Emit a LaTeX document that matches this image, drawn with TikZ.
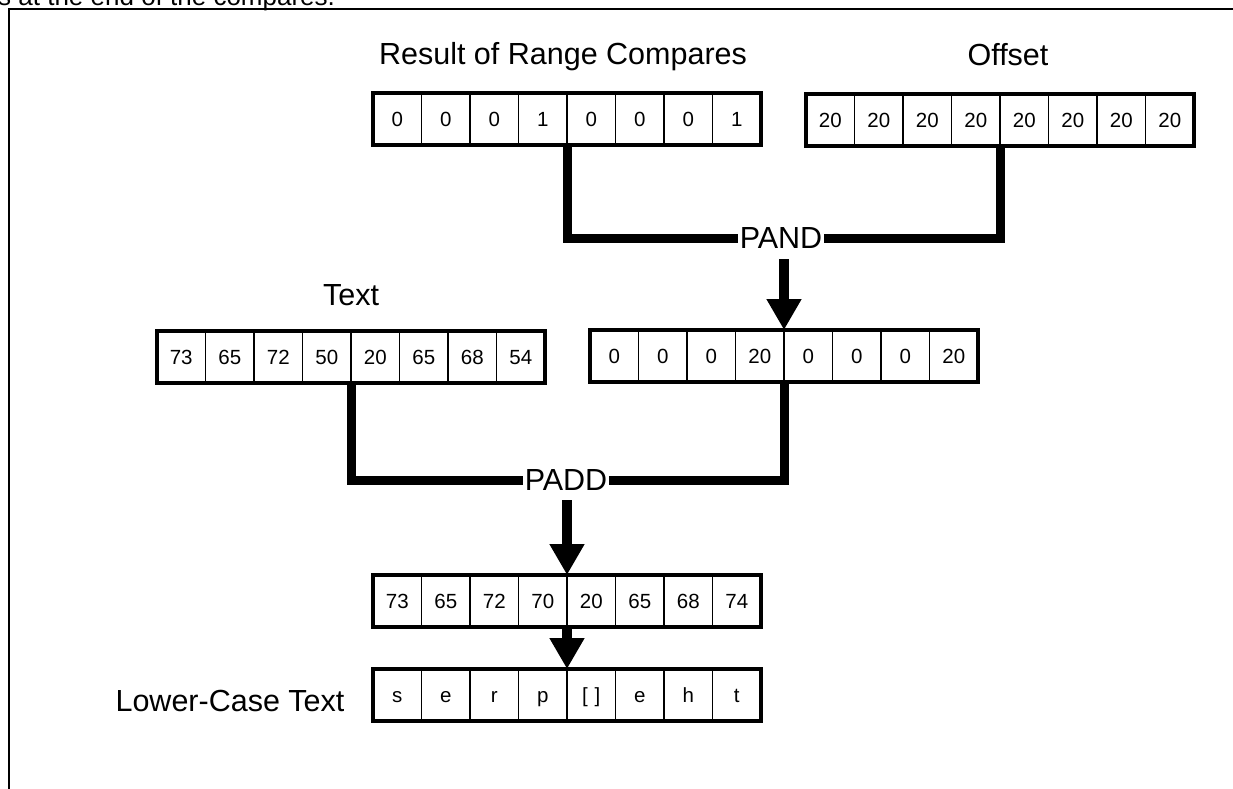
\documentclass[tikz,border=0pt]{standalone}
\usepackage{fontspec}
\setmainfont{Liberation Sans}
\usetikzlibrary{arrows.meta,fit,calc}
\newcommand\cellrow[4]{% name, left x, center y, list
  \foreach \v [count=\i] in {#4} {
    \node[cellbox] (#1\i) at ({#2+24.25+48.5*(\i-1)}, #3) {\v};
  }
  \node[outerbox, fit=(#11)(#18)] (#1) {};
}
\begin{document}
\begin{tikzpicture}[x=1pt,y=-1pt,
  cellbox/.style={draw, line width=1.4pt, outer sep=0pt, minimum width=48.5pt, minimum height=52pt, inner sep=0pt, text height=14pt, text depth=0pt, font=\fontsize{20.5}{24}\selectfont},
  outerbox/.style={draw, line width=4pt, inner sep=0pt, outer sep=0pt},
  title/.style={font=\fontsize{30.5}{36}\selectfont, inner sep=0pt, anchor=base},
  oplabel/.style={font=\fontsize{30.5}{36}\selectfont, inner sep=1.5pt},
  conn/.style={line width=9pt},
  bigarrow/.style={line width=10pt, -{Triangle[width=33pt,length=31pt]}},
]
\useasboundingbox (0,0) rectangle (1233,788);
\fill[white] (0,0) rectangle (1233,788);
\begin{scope}
\clip (0,0) rectangle (1233,788);
\node[font=\fontsize{26}{30}\selectfont, inner sep=0pt, anchor=base west] (top) at (-2,5) {s at the end of the compares.};
\draw[line width=2pt] (9,9) rectangle (1260,820);
\end{scope}

% titles
\node[title] (t1) at (563,64) {Result of Range Compares};
\node[title] (t2) at (1008,65) {Offset};
\node[title] (t3) at (351,305) {Text};
\node[title] (t5) at (230,711) {Lower-Case Text};

% rows
\cellrow{r}{373}{119}{0,0,0,1,0,0,0,1}
\cellrow{o}{806}{120}{20,20,20,20,20,20,20,20}
\cellrow{p}{590}{356}{0,0,0,20,0,0,0,20}
\cellrow{x}{157}{357}{73,65,72,50,20,65,68,54}
\cellrow{s}{373}{601}{73,65,72,70,20,65,68,74}
\cellrow{l}{373}{695}{s,e,r,p,{[\,\,]},e,h,t}

% operations
\node[oplabel] (pand) at (781,238) {PAND};
\node[oplabel] (padd) at (566,480) {PADD};

\draw[conn] (r4.south east) |- (pand.west);
\draw[conn] (o4.south east) |- (pand.east);
\draw[bigarrow] ($(pand.south -| p4.north east)+(0,9)$) -- (p4.north east);

\draw[conn] (x4.south east) |- (padd.west);
\draw[conn] (p4.south east) |- (padd.east);
\draw[bigarrow] ($(padd.south -| s4.north east)+(0,8)$) -- (s4.north east);

\draw[bigarrow] (s4.south east) -- (l4.north east);
\end{tikzpicture}
\end{document}
